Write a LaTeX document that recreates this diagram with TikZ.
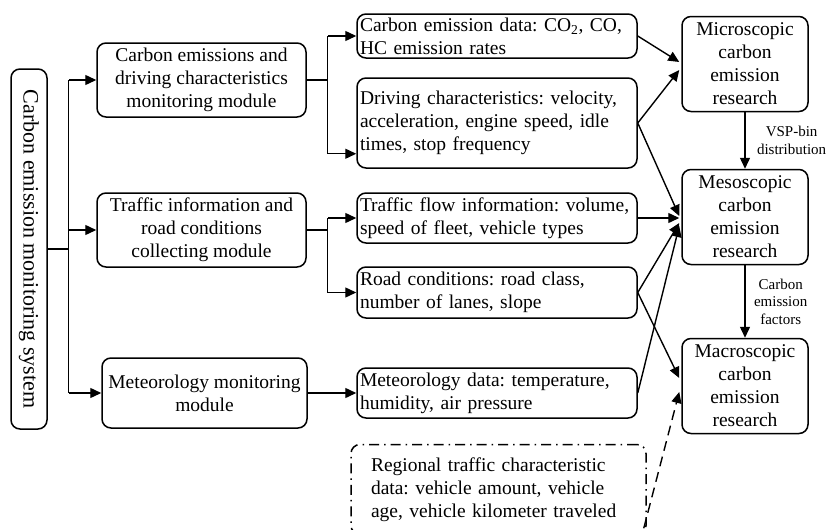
\documentclass[tikz,border=0pt]{standalone}
\usepackage{fontspec}
\setmainfont{Liberation Serif}
\usetikzlibrary{arrows.meta,positioning,calc}

\tikzset{
  box/.style={draw, line width=1.5pt, rounded corners=9pt, inner sep=3pt,
    font=\fontsize{19.5}{23}\selectfont\frenchspacing},
  module/.style={box, align=center, minimum width=209pt, minimum height=74pt},
  datum/.style={box, align=left, text width=274pt},
  level/.style={box, align=center, minimum width=126pt, minimum height=95pt},
  tag/.style={align=center, font=\fontsize{15}{17.5}\selectfont},
  link/.style={-{Triangle[length=11pt,width=10pt]}, line width=1.4pt},
}

\begin{document}
\begin{tikzpicture}[x=1pt, y=-1pt]
 \useasboundingbox (0,0) rectangle (838,530);

 % the system, standing upright on the left
 \node [box, minimum width=36pt, minimum height=360pt, inner sep=0pt] (sys) at (29,249)
   {\rotatebox{-90}{\fontsize{22}{24}\selectfont Carbon emission monitoring system}};

 % three modules
 \node [module] (mod1) at (201.5,80) {Carbon emissions and\\driving characteristics\\monitoring module};
 \node [module] (mod2) at (201.5,230) {Traffic information and\\road conditions\\collecting module};
 \node [module, minimum width=205pt, minimum height=70pt] (mod3) at (204.5,393) {Meteorology monitoring\\module};

 % data collected by the modules
 \node [datum, minimum height=44pt] (d1) at (497,36) {Carbon emission data: CO\textsubscript{2}, CO,\\HC emission rates};
 \node [datum, minimum height=90pt] (d2) at (497,123) {Driving characteristics: velocity,\\acceleration, engine speed, idle\\times, stop frequency};
 \node [datum, minimum height=50pt] (d3) at (497,218) {Traffic flow information: volume,\\speed of fleet, vehicle types};
 \node [datum, minimum height=51pt] (d4) at (497,292.5) {Road conditions: road class,\\number of lanes, slope};
 \node [datum, minimum height=50pt] (d5) at (497,393) {Meteorology data: temperature,\\humidity, air pressure};
 \node [box, align=left, text width=255pt, minimum width=295pt, minimum height=90pt,
   dash pattern=on 10pt off 5pt on 1.5pt off 5pt] (reg) at (498.5,489.5)
   {Regional traffic characteristic\\data: vehicle amount, vehicle\\age, vehicle kilometer traveled};

 % three levels of research
 \node [level] (micro) at (745,64) {Microscopic\\carbon\\emission\\research};
 \node [level] (meso) at (745,217) {Mesoscopic\\carbon\\emission\\research};
 \node [level] (macro) at (745,386) {Macroscopic\\carbon\\emission\\research};

 % system to modules
 \draw [line width=1.4pt] (sys.east) -- ++(21,0) coordinate (fork);
 \draw [line width=1.4pt] (fork |- mod1.west) -- (fork |- mod3.west);
 \foreach \m in {mod1,mod2,mod3} {
  \draw [link] (fork |- \m.west) -- (\m.west);
 }

 % modules to data
 \draw [line width=1.4pt] (mod1.east) -- ++(21,0) coordinate (split1);
 \coordinate (d2in) at ($(d2.south west)+(0,-15)$);
 \draw [line width=1.4pt] (split1 |- d1.west) -- (split1 |- d2in);
 \draw [link] (split1 |- d1.west) -- (d1.west);
 \draw [link] (split1 |- d2in) -- (d2in);
 \draw [line width=1.4pt] (mod2.east) -- ++(21,0) coordinate (split2);
 \draw [line width=1.4pt] (split2 |- d3.west) -- (split2 |- d4.west);
 \foreach \d in {d3,d4} {
  \draw [link] (split2 |- \d.west) -- (\d.west);
 }
 \draw [link] (mod3.east) -- (d5.west);

 % data to research levels
 \draw [link] (d1.east) -- ($(micro.west)+(-2,-2)$);
 \draw [link] (d2.east) -- ($(micro.west)+(-2,6)$);
 \foreach \d/\dy in {d2/-1,d3/1,d4/6,d5/9} {
  \draw [link] (\d.east) -- ($(meso.west)+(-2,\dy)$);
 }
 \draw [link] (d4.east) -- ($(macro.west)+(-2,-8)$);
 \coordinate (regout) at ($(reg.south east)+(-3,-7)$);
 \draw [link, dash pattern=on 10pt off 6pt] (regout) -- ($(macro.west)+(-2,6)$);

 % from one level to the next
 \draw [link] (micro) -- (meso) node [tag, midway, right=8pt] (vsp) {VSP-bin\\distribution};
 \draw [link] (meso) -- (macro) node [tag, midway, right=5pt] (cef) {Carbon\\emission\\factors};
\end{tikzpicture}
\end{document}
